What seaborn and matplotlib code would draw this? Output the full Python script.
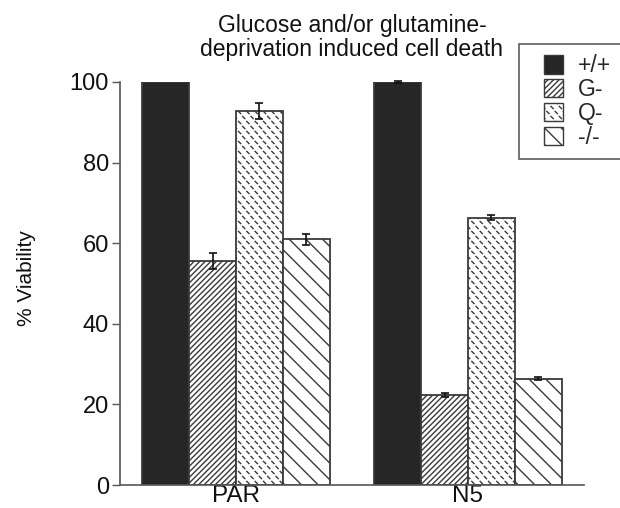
import numpy as np
import pandas as pd
import matplotlib
matplotlib.use("Agg")
import matplotlib.pyplot as plt
import matplotlib.hatch as mhatch
from matplotlib.path import Path
from matplotlib.patches import Patch, Rectangle
from matplotlib.legend_handler import HandlerPatch
import seaborn as sns
import warnings
warnings.filterwarnings("ignore")

# ---- data ----
groups = ["PAR", "N5"]
conditions = ["+/+", "G-", "Q-", "-/-"]
par_values = [100.0, 55.6, 92.8, 61.0]
par_errors = [0.0, 2.0, 1.9, 1.4]
n5_values = [100.0, 22.4, 66.3, 26.4]
n5_errors = [0.3, 0.5, 0.6, 0.3]
y_ticks = [0, 20, 40, 60, 80, 100]


# custom "short dash" hatch for Q-
class DashHatch(mhatch.HatchPatternBase):
    def __init__(self, hatch, density):
        n = hatch.count('d')
        self.ncol = int(n * density)
        self.nrow = int(self.ncol * 5 / 3) // 2 * 2
        self.num_vertices = self.ncol * self.nrow * 2

    def set_vertices_and_codes(self, vertices, codes):
        dx = 1.0 / self.ncol
        dy = 1.0 / self.nrow
        h = 0.011
        k = 0
        for r in range(self.nrow):
            off = (dx / 2) if r % 2 else 0.0
            for c in range(self.ncol):
                x = c * dx + off + dx / 4
                y = r * dy + dy / 2
                vertices[k] = (x - h, y + h)
                vertices[k + 1] = (x + h, y - h)
                codes[k] = Path.MOVETO
                codes[k + 1] = Path.LINETO
                k += 2


mhatch._hatch_types.append(DashHatch)

sns.set_theme(style="ticks")
plt.rcParams['font.family'] = ['Liberation Sans', 'DejaVu Sans']
plt.rcParams['hatch.linewidth'] = 1.0
plt.rcParams['hatch.color'] = '#222222'

df = pd.DataFrame({
    "group": np.repeat(groups, len(conditions)),
    "condition": conditions * len(groups),
    "value": par_values + n5_values,
    "err": par_errors + n5_errors,
})

fig = plt.figure(figsize=(6.2, 5.08), dpi=100)
ax = fig.add_axes([120 / 620, 1 - 485 / 508, (584 - 120) / 620, (485 - 82) / 508])

fills = {"+/+": "#262626", "G-": "white", "Q-": "white", "-/-": "white"}
hatches = {"+/+": None, "G-": "//////", "Q-": "dd", "-/-": "\\\\"}

sns.barplot(data=df, x="group", y="value", hue="condition", order=groups,
            hue_order=conditions, palette=fills, width=0.81, errorbar=None,
            edgecolor="#3a3a3a", linewidth=1.3, ax=ax, legend=False,
            saturation=1)

# style bars and add error bars
bars = [p for p in ax.patches if p.get_width() > 0]
for i, cond in enumerate(conditions):
    for j, grp in enumerate(groups):
        p = bars[i * len(groups) + j]
        if hatches[cond]:
            p.set_hatch(hatches[cond])
        row = df[(df.group == grp) & (df.condition == cond)].iloc[0]
        if row.err > 0:
            ax.errorbar(p.get_x() + p.get_width() / 2, row.value, yerr=row.err,
                        fmt="none", ecolor="#111111", elinewidth=1.2,
                        capsize=2.6, capthick=1.2, clip_on=False, zorder=5)

ax.set_xlim(-0.5, 1.5)
ax.set_ylim(0, 100)
ax.set_yticks(y_ticks)
ax.tick_params(axis="y", labelsize=17, length=6, width=1, color="#555555",
               pad=2, labelcolor="#111111")
ax.tick_params(axis="x", labelsize=17.5, length=0, pad=0, labelcolor="#111111")
ax.set_xlabel("")
ax.set_ylabel("% Viability", fontsize=15, labelpad=24, color="#111111")
ax.yaxis.label.set_y(0.514)
for s in ["top", "right"]:
    ax.spines[s].set_visible(False)
for s in ["left", "bottom"]:
    ax.spines[s].set_color("#555555")
    ax.spines[s].set_linewidth(1.2)

ax.set_title("Glucose and/or glutamine-\ndeprivation induced cell death",
             fontsize=16.5, color="#111111", pad=19, linespacing=1.05)


def square_patch(legend, orig_handle, xdescent, ydescent, width, height, fontsize):
    return Rectangle((-xdescent + width - height, -ydescent), height, height)


handles = [Patch(facecolor=fills[c], edgecolor="#3a3a3a", hatch=hatches[c],
                 linewidth=1.0, label=c) for c in conditions]
leg = fig.legend(handles=handles, loc="upper left",
                 bbox_to_anchor=(519 / 620, 1 - 44 / 508), fontsize=16.5,
                 frameon=True, fancybox=False, edgecolor="#333333",
                 handlelength=1.45, handleheight=0.85, labelspacing=0.04,
                 handletextpad=0.66, borderpad=0.45, borderaxespad=0,
                 handler_map={Patch: HandlerPatch(patch_func=square_patch)})
leg.get_frame().set_linewidth(1.2)

fig.savefig("out.png", dpi=100)
